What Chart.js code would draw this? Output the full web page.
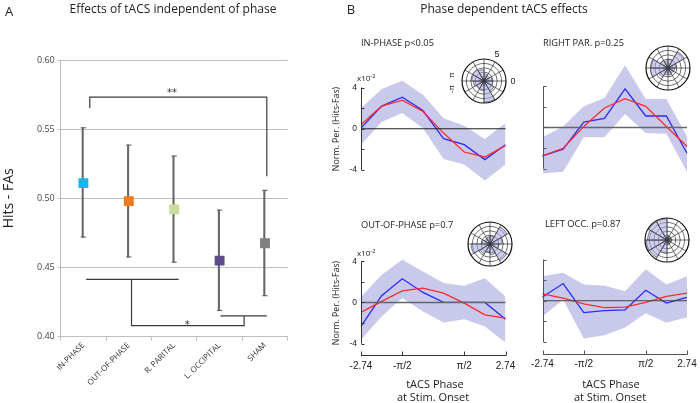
<!DOCTYPE html>
<html>
<head>
<meta charset="utf-8">
<script src="https://cdn.jsdelivr.net/npm/chart.js@4.4.1/dist/chart.umd.min.js"></script>
<style>
body { margin: 0; background: #fff; }
#wrap { position: relative; width: 700px; height: 403px; overflow: hidden; font-family: 'Open Sans', sans-serif; color: #222; }
canvas { position: absolute; }
.t { position: absolute; white-space: nowrap; line-height: 1; }
.c { transform: translate(-50%, -50%); }
.l { transform: translateY(-50%); }
.r90 { transform: translate(-50%, -50%) rotate(-90deg); }
sup { font-size: 70%; vertical-align: 3px; }
</style>
</head>
<body>
<div id="wrap">
  <canvas id="panelA"></canvas>
  <canvas id="inPhase"></canvas>
  <canvas id="rightPar"></canvas>
  <canvas id="outPhase"></canvas>
  <canvas id="leftOcc"></canvas>
  <canvas id="roseIn"></canvas>
  <canvas id="roseRight"></canvas>
  <canvas id="roseOut"></canvas>
  <canvas id="roseLeft"></canvas>

  <div class="t l" style="left:5px;top:11px;font-size:13px;">A</div>
  <div class="t c" style="left:173px;top:9px;font-size:12px;">Effects of tACS independent of phase</div>
  <div class="t c" style="left:351px;top:9px;font-size:13px;">B</div>
  <div class="t c" style="left:504px;top:9px;font-size:12px;">Phase dependent tACS effects</div>

  <div class="t l" style="left:361px;top:43px;font-size:9.3px;">IN-PHASE p&lt;0.05</div>
  <div class="t l" style="left:543px;top:43px;font-size:9.3px;">RIGHT PAR. p=0.25</div>
  <div class="t l" style="left:361px;top:225px;font-size:9.3px;">OUT-OF-PHASE p=0.7</div>
  <div class="t l" style="left:545px;top:224px;font-size:9.3px;">LEFT OCC. p=0.87</div>

  <div class="t l" style="left:357px;top:78px;font-size:8px;">x10<sup>-2</sup></div>
  <div class="t l" style="left:357px;top:253px;font-size:8px;">x10<sup>-2</sup></div>
  <div class="t r90" style="left:336px;top:129px;font-size:8.8px;">Norm. Per. (Hits-Fas)</div>
  <div class="t r90" style="left:336px;top:303px;font-size:8.8px;">Norm. Per. (Hits-Fas)</div>

  <div class="t c" style="left:435px;top:383px;font-size:11px;">tACS Phase</div>
  <div class="t c" style="left:433px;top:396px;font-size:11px;">at Stim. Onset</div>
  <div class="t c" style="left:611px;top:383px;font-size:11px;">tACS Phase</div>
  <div class="t c" style="left:610px;top:396px;font-size:11px;">at Stim. Onset</div>

  <div class="t c" style="left:497px;top:54px;font-size:9px;font-family:'Liberation Sans';">5</div>
  <div class="t c" style="left:513px;top:81px;font-size:9px;font-family:'Liberation Sans';">0</div>
  <div class="t r90" style="left:452px;top:75px;font-size:8px;font-family:'Liberation Sans';">π</div>
  <div class="t r90" style="left:452px;top:89px;font-size:8px;font-family:'Liberation Sans';">-π</div>
</div>

<script>
// Panel A: mean +/- error per stimulation condition
const groups = ['IN-PHASE', 'OUT-OF-PHASE', 'R. PARITAL', 'L. OCCIPITAL', 'SHAM'];
const groupMean = [0.511, 0.498, 0.492, 0.455, 0.4675];
const groupLow = [0.472, 0.4576, 0.4539, 0.419, 0.4296];
const groupHigh = [0.551, 0.5385, 0.5306, 0.4915, 0.5058];
const groupColors = ['#1CB4EC', '#F07A1E', '#C6DF9F', '#5E4B8B', '#808080'];
const yTicksA = [0.40, 0.45, 0.50, 0.55, 0.60];

// significance brackets (x in group units, y in Hits - FAs)
const bracketTop = [[0.14, 0.5653], [0.14, 0.5732], [4.04, 0.5732], [4.04, 0.516]];
const bracketActive = [[0.06, 0.4415], [2.10, 0.4415]];
const bracketMid = [[1.06, 0.4415], [1.06, 0.408], [3.54, 0.408], [3.54, 0.415]];
const bracketControl = [[3.02, 0.415], [4.04, 0.415]];
const sigMarks = [{ x: 1.95, y: 0.5738, text: '**' }, { x: 2.29, y: 0.4062, text: '*' }];

// Panel B: performance per phase bin (x10^-2)
const phaseBins = ['-2.74', '-1.96', '-1.17', '-0.39', '0.39', '1.17', '1.96', '2.74'];
const phaseTickIndex = [0, 2, 5, 7];
const phaseTickText = ['-2.74', '-π/2', 'π/2', '2.74'];
const normTicks = [-4, -2, 0, 2, 4];
const normTickText = [4, 0, -4];

const inPhaseData = [0.06, 2.2, 3.06, 1.77, -0.97, -1.55, -3.0, -1.55];
const inPhaseFit = [0.39, 2.2, 2.77, 1.68, -0.42, -2.26, -2.74, -1.61];
const inPhaseUpper = [2.0, 3.87, 4.65, 3.29, 1.03, 0.29, -1.0, 0.55];
const inPhaseLower = [-1.55, 0.65, 1.52, 0.06, -2.94, -3.48, -5.03, -3.48];

const rightParData = [-2.76, -2.11, 0.52, 0.88, 3.74, 1.11, 1.11, -2.5];
const rightParFit = [-2.76, -2.02, 0.1, 1.89, 2.8, 2.05, 0.1, -1.85];
const rightParUpper = [-0.94, 0.1, 2.05, 2.86, 6.05, 2.76, 2.76, -0.88];
const rightParLower = [-4.46, -4.29, -0.94, -0.94, 1.3, -0.55, -0.62, -4.29];

const outPhaseData = [-2.33, 0.65, 2.3, 0.97, 0, 0, 0, -1.62];
const outPhaseFit = [-0.97, 0.1, 1.13, 1.39, 0.91, -0.06, -1.2, -1.52];
const outPhaseUpper = [0.52, 2.7, 4.14, 3.0, 1.88, 1.62, 2.36, 0.58];
const outPhaseLower = [-3.62, -1.36, 0.42, -0.87, -1.94, -1.62, -2.33, -3.88];

const leftOccData = [0.36, 1.67, -1.15, -0.95, -0.89, 1.02, -0.23, 0.33];
const leftOccFit = [0.66, 0.26, -0.3, -0.66, -0.62, -0.16, 0.43, 0.75];
const leftOccUpper = [2.39, 2.72, 1.57, 1.48, 0.92, 3.05, 1.57, 2.39];
const leftOccLower = [-1.54, 0.1, -3.67, -3.34, -2.59, -1.21, -2.13, -1.61];

// rose plots, 12 sectors clockwise from the top
const roseBins = ['0', '30', '60', '90', '120', '150', '180', '210', '240', '270', '300', '330'];
const roseRings = [0, 0.35, 1, 2, 3, 4, 5];
const inPhaseRose = [1.6, 1.4, 1.8, 2.0, 2.6, 4.8, 2.2, 2.0, 2.4, 2.8, 3.0, 2.6];
const rightParRose = [2.0, 4.3, 1.8, 1.5, 1.4, 1.6, 1.5, 2.4, 4.0, 3.8, 2.0, 1.6];
const outPhaseRose = [1.8, 4.5, 2.8, 2.0, 4.4, 2.4, 1.8, 2.6, 4.3, 1.8, 1.4, 1.6];
const leftOccRose = [1.0, 0.9, 0.9, 1.0, 0.9, 1.0, 3.0, 4.6, 4.7, 4.4, 4.8, 4.8];

function place(cv, x, y, w, h) {
    cv.width = w; cv.height = h;
    cv.style.left = x + 'px'; cv.style.top = y + 'px';
}

// ---------- Panel A ----------
const sigText = {
    id: 'sigText',
    afterDatasetsDraw(chart) {
        const { ctx } = chart;
        const x = chart.scales.x2, y = chart.scales.y;
        ctx.save();
        ctx.font = '10px "DejaVu Sans"';
        ctx.fillStyle = '#333';
        ctx.textAlign = 'center';
        sigMarks.forEach(m => ctx.fillText(m.text, x.getPixelForValue(m.x), y.getPixelForValue(m.y)));
        ctx.restore();
    }
};

function bracket(points) {
    return {
        type: 'line', xAxisID: 'x2',
        data: points.map(p => ({ x: p[0], y: p[1] })),
        borderColor: '#3a3a3a', borderWidth: 1.2, pointRadius: 0, tension: 0, fill: false, order: 3
    };
}

const cvA = document.getElementById('panelA');
place(cvA, 0, 0, 310, 403);
new Chart(cvA, {
    type: 'bar',
    data: {
        labels: groups,
        datasets: [
            { type: 'line', data: groupMean, showLine: false, pointStyle: 'rect', pointRadius: 7, pointHoverRadius: 7,
              pointBackgroundColor: groupColors, pointBorderWidth: 0, order: 0 },
            { type: 'line', data: groupHigh, showLine: false, pointStyle: 'line', pointRadius: 2.6,
              pointBorderColor: '#555', pointBorderWidth: 1, order: 1 },
            { type: 'line', data: groupLow, showLine: false, pointStyle: 'line', pointRadius: 2.6,
              pointBorderColor: '#555', pointBorderWidth: 1, order: 1 },
            { type: 'bar', data: groupLow.map((v, i) => [v, groupHigh[i]]), backgroundColor: '#666',
              barThickness: 1.4, order: 2 },
            bracket(bracketTop), bracket(bracketActive), bracket(bracketMid), bracket(bracketControl)
        ]
    },
    options: {
        responsive: false,
        animation: false,
        events: [],
        layout: { padding: { top: 60, right: 22.3, bottom: 0, left: 0 } },
        plugins: { legend: { display: false }, tooltip: { enabled: false } },
        scales: {
            x: {
                grid: { display: true, drawOnChartArea: false, color: '#bfbfbf', tickLength: 4, offset: true },
                border: { color: '#bfbfbf' },
                ticks: { font: { family: 'Open Sans', size: 8 }, color: '#333', maxRotation: 45, minRotation: 45,
                         padding: 0, autoSkip: false },
                afterFit: s => { s.height = 66.3; }
            },
            x2: { type: 'linear', display: false, offset: false, grid: { offset: false }, min: -0.5, max: 4.5 },
            y: {
                min: 0.4, max: 0.6,
                afterBuildTicks: s => { s.ticks = yTicksA.map(v => ({ value: v })); },
                ticks: { callback: v => v.toFixed(2), font: { family: 'Open Sans', size: 9 }, color: '#444', padding: 3 },
                grid: { color: '#bfbfbf', tickLength: 3 },
                border: { color: '#bfbfbf' },
                title: { display: true, text: 'Hits - FAs', font: { family: 'Open Sans', size: 14 }, color: '#222',
                         padding: { top: 1, bottom: 0 } },
                afterFit: s => { s.width = 60.7; }
            }
        }
    },
    plugins: [sigText]
});

// ---------- Panel B ----------
const phaseAxes = {
    id: 'phaseAxes',
    afterDatasetsDraw(chart, args, o) {
        const { ctx } = chart;
        const x = chart.scales.x, y = chart.scales.y;
        const x0 = Math.round(x.getPixelForValue(0)) + 0.5;
        const xN = x.getPixelForValue(phaseBins.length - 1);
        ctx.save();
        ctx.strokeStyle = o.zeroColor;
        ctx.lineWidth = o.zeroWidth;
        const yz = y.getPixelForValue(0);
        ctx.beginPath(); ctx.moveTo(x0, yz); ctx.lineTo(xN, yz); ctx.stroke();
        ctx.strokeStyle = o.axisColor;
        ctx.lineWidth = 1;
        ctx.beginPath();
        ctx.moveTo(x0, y.getPixelForValue(4)); ctx.lineTo(x0, y.getPixelForValue(-4));
        normTicks.forEach(v => {
            const py = Math.round(y.getPixelForValue(v)) + 0.5;
            ctx.moveTo(x0, py); ctx.lineTo(x0 + 3, py);
        });
        if (o.xAxis) {
            const py = Math.round(y.getPixelForValue(-4) + 11.7) + 0.5;
            ctx.moveTo(x0 - 0.5, py); ctx.lineTo(xN + 0.5, py);
            phaseTickIndex.forEach(i => {
                const px = Math.round(x.getPixelForValue(i)) + 0.5;
                ctx.moveTo(px, py); ctx.lineTo(px, py - 4);
            });
        }
        ctx.stroke();
        ctx.restore();
    }
};

function phasePlot(id, box, area, data, fit, upper, lower, opt) {
    const cv = document.getElementById(id);
    place(cv, box.x, box.y, box.w, box.h);
    const yW = opt.yLabels ? area.l - box.x : 0;
    const xH = opt.xAxis ? 18 : 0;
    new Chart(cv, {
        type: 'line',
        data: {
            labels: phaseBins,
            datasets: [
                { data: fit, borderColor: '#FF2A2A', borderWidth: 1.3, pointRadius: 0, tension: 0, fill: false },
                { data: data, borderColor: '#2A2AFF', borderWidth: 1.3, pointRadius: 0, tension: 0, fill: false },
                { data: upper, borderColor: 'transparent', borderWidth: 0, pointRadius: 0, tension: 0,
                  fill: '+1', backgroundColor: '#C9CAEB' },
                { data: lower, borderColor: 'transparent', borderWidth: 0, pointRadius: 0, tension: 0, fill: false }
            ]
        },
        options: {
            responsive: false,
            animation: false,
            events: [],
            layout: { padding: {
                left: opt.yLabels ? 0 : area.l - box.x,
                top: area.t - box.y,
                right: box.x + box.w - area.r,
                bottom: box.y + box.h - area.b - xH
            } },
            plugins: {
                legend: { display: false }, tooltip: { enabled: false },
                phaseAxes: { zeroColor: opt.zeroColor, zeroWidth: opt.zeroWidth, axisColor: opt.axisColor, xAxis: opt.xAxis }
            },
            scales: {
                x: {
                    display: opt.xAxis,
                    grid: { display: false, drawTicks: false }, border: { display: false },
                    afterBuildTicks: s => { s.ticks = phaseTickIndex.map(i => ({ value: i })); },
                    ticks: { callback: (v, i) => phaseTickText[i], font: { family: 'Liberation Sans', size: 10 },
                             color: '#222', padding: 1, autoSkip: false, maxRotation: 0 },
                    afterFit: s => { s.height = xH; }
                },
                y: {
                    display: opt.yLabels,
                    min: -5.5, max: 6.5,
                    grid: { display: false, drawTicks: false }, border: { display: false },
                    afterBuildTicks: s => { s.ticks = normTicks.map(v => ({ value: v })); },
                    ticks: { callback: v => normTickText.includes(v) ? String(v) : '',
                             font: { family: 'Liberation Sans', size: 8.5 }, color: '#222', padding: 4 },
                    afterFit: s => { s.width = yW; }
                }
            }
        },
        plugins: [phaseAxes]
    });
}

phasePlot('inPhase', { x: 326, y: 40, w: 186, h: 160 }, { l: 361, t: 61.8, r: 505.5, b: 185.4 },
    inPhaseData, inPhaseFit, inPhaseUpper, inPhaseLower,
    { yLabels: true, xAxis: false, zeroColor: '#222', zeroWidth: 1, axisColor: '#333' });
phasePlot('rightPar', { x: 518, y: 40, w: 182, h: 160 }, { l: 542.5, t: 60.5, r: 687, b: 184.1 },
    rightParData, rightParFit, rightParUpper, rightParLower,
    { yLabels: false, xAxis: false, zeroColor: '#666', zeroWidth: 1.5, axisColor: '#555' });
phasePlot('outPhase', { x: 326, y: 215, w: 200, h: 165 }, { l: 361, t: 235.5, r: 505.5, b: 359.1 },
    outPhaseData, outPhaseFit, outPhaseUpper, outPhaseLower,
    { yLabels: true, xAxis: true, zeroColor: '#666', zeroWidth: 1.5, axisColor: '#333' });
phasePlot('leftOcc', { x: 518, y: 215, w: 182, h: 165 }, { l: 542.5, t: 233.8, r: 687, b: 357.4 },
    leftOccData, leftOccFit, leftOccUpper, leftOccLower,
    { yLabels: false, xAxis: true, zeroColor: '#444', zeroWidth: 1, axisColor: '#555' });

// ---------- rose insets ----------
function rose(id, cx, cy, r, values) {
    const cv = document.getElementById(id);
    place(cv, cx - r - 1, cy - r - 1, 2 * r + 2, 2 * r + 2);
    new Chart(cv, {
        type: 'polarArea',
        data: { labels: roseBins, datasets: [{ data: values, backgroundColor: 'rgba(165,165,225,0.55)',
                                               borderColor: '#333', borderWidth: 0.6 }] },
        options: {
            responsive: false, animation: false, events: [],
            layout: { padding: 1 },
            plugins: { legend: { display: false }, tooltip: { enabled: false } },
            scales: {
                r: {
                    min: 0, max: 5,
                    afterBuildTicks: s => { s.ticks = roseRings.map(v => ({ value: v })); },
                    ticks: { display: false },
                    grid: { color: '#111', lineWidth: c => c.tick && c.tick.value === 5 ? 1.2 : (c.tick && c.tick.value < 1 ? 2.5 : 0.6) },
                    angleLines: { display: true, color: '#111', lineWidth: 0.6 },
                    pointLabels: { display: false }
                }
            }
        }
    });
}

rose('roseIn', 484, 81, 22, inPhaseRose);
rose('roseRight', 668, 68, 22, rightParRose);
rose('roseOut', 490, 244, 22, outPhaseRose);
rose('roseLeft', 667, 240, 22, leftOccRose);
</script>
</body>
</html>
